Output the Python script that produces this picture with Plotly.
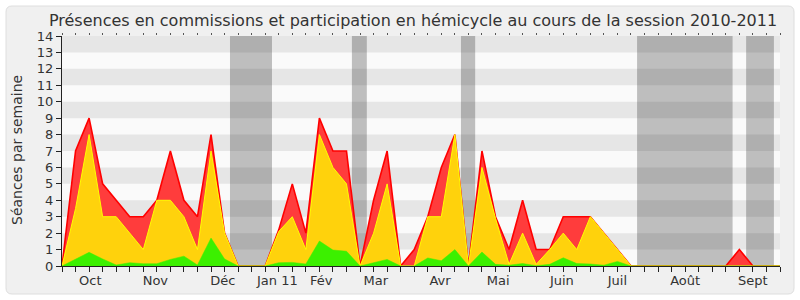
import plotly.graph_objects as go

# ---- data (weekly, session 2010-2011) ----
weeks = list(range(54))
red = [0, 7, 9, 5, 4, 3, 3, 4, 7, 4,
       3, 8, 2, 0, 0, 0, 2.2, 5, 2, 9,
       7, 7, 0, 4, 7, 0, 1, 3, 6, 8,
       0, 7, 3, 1, 4, 1, 1, 3, 3, 3,
       2, 1, 0, 0, 0, 0, 0, 0, 0, 0,
       1, 0, 0, 0]
yellow = [0, 3.5, 8, 3, 3, 2, 1, 4, 4, 3,
          1, 7, 2, 0, 0, 0, 2.1, 3, 1, 8,
          6, 5, 0, 2, 5, 0, 0, 3, 3, 8,
          0, 6, 2.9, 0.1, 2, 0.1, 1, 2, 1, 3,
          2, 1, 0, 0, 0, 0, 0, 0, 0, 0,
          0, 0, 0, 0]
green = [0, 0.4, 0.83, 0.43, 0.06, 0.2, 0.14, 0.14, 0.4, 0.6,
         0.06, 1.7, 0.43, 0, 0, 0, 0.2, 0.22, 0.12, 1.52,
         0.97, 0.9, 0, 0.2, 0.4, 0, 0, 0.49, 0.32, 1.0,
         0, 0.85, 0.1, 0.05, 0.15, 0.02, 0.1, 0.5, 0.15, 0.12,
         0.05, 0.28, 0, 0, 0, 0, 0, 0, 0, 0,
         0, 0, 0, 0]
month_labels = ["Oct", "Nov", "Déc", "Jan 11", "Fév", "Mar", "Avr", "Mai",
                "Juin", "Juil", "Août", "Sept"]
month_pos = [2.09, 6.89, 11.88, 15.9, 19.14, 23.16, 27.9, 32.2, 36.9, 41.0, 46.0, 51.0]
vacations = [(12.4, 15.5), (21.4, 22.5), (29.45, 30.5), (42.45, 49.5), (50.5, 52.55)]
y_ticks = list(range(15))

XMAX = 53
YMAX = 14

fig = go.Figure()
fig.add_trace(go.Scatter(x=weeks, y=red, mode="lines", fill="tozeroy",
                         line=dict(color="#ff0000", width=1.6),
                         fillcolor="#ff3c3c", hoverinfo="skip", showlegend=False))
fig.add_trace(go.Scatter(x=weeks, y=yellow, mode="lines", fill="tozeroy",
                         line=dict(color="#ffff00", width=1),
                         fillcolor="#ffd20c", hoverinfo="skip", showlegend=False))
fig.add_trace(go.Scatter(x=weeks, y=green, mode="lines", fill="tozeroy",
                         line=dict(color="#3cf000", width=0.5),
                         fillcolor="#3cf000", hoverinfo="skip", showlegend=False))
# dummy traces to activate overlay axes
fig.add_trace(go.Scatter(x=[None], y=[None], xaxis="x2", showlegend=False, hoverinfo="skip"))
fig.add_trace(go.Scatter(x=[None], y=[None], xaxis="x3", showlegend=False, hoverinfo="skip"))

shapes = []
# outer rounded panel (paper coords)
L, R, T, B = 62, 20, 36, 34
W, H = 800, 300
pw, ph = W - L - R, H - T - B
def px(x):
    return (x - L) / pw
def py(y):
    return (H - B - y) / ph
x0, x1, y0, y1 = px(6), px(794), py(294), py(6)
rx, ry = 6 / pw, 6 / ph
path = (f"M {x0+rx},{y0} L {x1-rx},{y0} Q {x1},{y0} {x1},{y0+ry} "
        f"L {x1},{y1-ry} Q {x1},{y1} {x1-rx},{y1} L {x0+rx},{y1} "
        f"Q {x0},{y1} {x0},{y1-ry} L {x0},{y0+ry} Q {x0},{y0} {x0+rx},{y0} Z")
shapes.append(dict(type="path", path=path, xref="paper", yref="paper",
                   fillcolor="#f0f0f0", line=dict(color="#dedede", width=1), layer="below"))
# plot background
shapes.append(dict(type="rect", xref="x", yref="y", x0=0, x1=XMAX, y0=0, y1=YMAX,
                   fillcolor="#fafafa", line=dict(width=0), layer="below"))
# vacation bands
for a, b in vacations:
    shapes.append(dict(type="rect", xref="x", yref="y", x0=a, x1=b, y0=0, y1=YMAX,
                       fillcolor="#bebebe", line=dict(width=0), layer="below"))
# alternating stripes
for k in range(1, YMAX, 2):
    shapes.append(dict(type="rect", xref="x", yref="y", x0=0, x1=XMAX, y0=k, y1=k + 1,
                       fillcolor="rgba(0,0,0,0.08)", line=dict(width=0), layer="below"))

font = "DejaVu Sans"
fig.update_layout(
    width=W, height=H,
    margin=dict(l=L, r=R, t=T, b=B),
    paper_bgcolor="white",
    plot_bgcolor="rgba(0,0,0,0)",
    showlegend=False,
    shapes=shapes,
    font=dict(family=font, color="#333"),
    title=dict(text="Présences en commissions et participation en hémicycle au cours de la session 2010-2011",
               x=413 / W, xanchor="center", y=1 - 20 / H, yanchor="middle",
               font=dict(family=font, size=16, color="#333")),
    xaxis=dict(range=[0, XMAX], tickmode="array", tickvals=weeks, showticklabels=False,
               ticks="outside", ticklen=5, tickcolor="#222", tickwidth=1,
               showline=True, linecolor="#222", linewidth=1,
               showgrid=False, zeroline=False, fixedrange=True),
    xaxis2=dict(range=[0, XMAX], overlaying="x", anchor="y", side="bottom",
                tickmode="array", tickvals=month_pos, ticktext=month_labels,
                ticks="outside", ticklen=2, tickcolor="rgba(0,0,0,0)",
                tickfont=dict(family=font, size=13, color="#333"),
                showline=False, showgrid=False, zeroline=False),
    xaxis3=dict(range=[0, XMAX], overlaying="x", anchor="y", side="top",
                tickmode="array", tickvals=weeks, showticklabels=False,
                ticks="outside", ticklen=2, tickcolor="#555", tickwidth=1,
                showline=False, showgrid=False, zeroline=False),
    yaxis=dict(range=[0, YMAX], tickmode="array", tickvals=y_ticks,
               ticks="outside", ticklen=5, tickcolor="#222", tickwidth=1,
               tickfont=dict(family=font, size=13, color="#333"),
               showline=True, linecolor="#222", linewidth=1,
               showgrid=False, zeroline=False, fixedrange=True),
    annotations=[dict(text="Séances par semaine", xref="paper", yref="paper",
                      x=px(17), y=py(150), xanchor="center", yanchor="middle",
                      textangle=-90, showarrow=False,
                      font=dict(family=font, size=14, color="#333"))],
)

fig.write_html("out.html")
